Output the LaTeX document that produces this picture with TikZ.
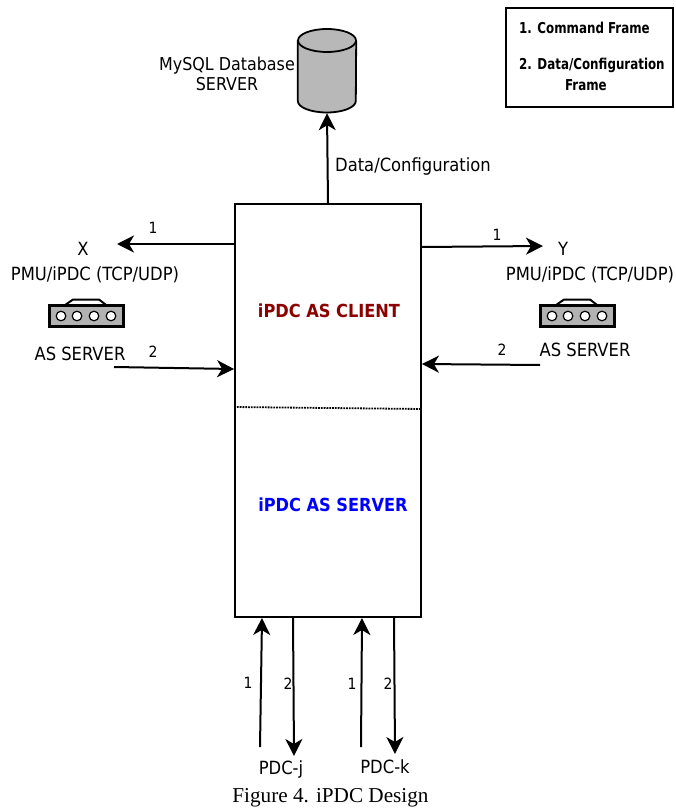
\documentclass[tikz,border=0pt]{standalone}
\usepackage{fontspec}
\setmainfont{Liberation Serif}
\newfontfamily\condfont{DejaVu Sans Condensed}
\usetikzlibrary{arrows.meta}
\tikzset{
  flow/.style={
    line width=2pt,
    -{Stealth[length=17pt,width=17pt,inset=5pt]}
  },
  ipdcbox/.style={
    draw,
    line width=1.8pt,
    minimum width=186pt,
    minimum height=413pt,
    inner sep=0pt
  },
  legendbox/.style={
    draw,
    line width=1.8pt,
    minimum width=167pt,
    minimum height=99pt,
    inner sep=0pt
  },
  database/.style={
    minimum width=58pt,
    minimum height=84pt,
    inner sep=0pt
  },
  dbfill/.style={
    draw,
    line width=1.8pt,
    fill=black!28
  },
  txt/.style={
    font=\condfont\fontsize{18.2}{20}\selectfont,
    align=center,
    inner sep=0pt
  },
  num/.style={
    font=\condfont\fontsize{15.5}{16}\selectfont,
    inner sep=0pt
  },
  legend/.style={
    font=\condfont\bfseries\fontsize{15}{20}\selectfont,
    xscale=0.88,
    transform shape,
    anchor=west,
    inner sep=0pt
  },
  role/.style={
    font=\condfont\bfseries\fontsize{18}{20}\selectfont,
    inner sep=0pt
  },
  pics/pmuicon/.style={
    code={
      \draw[line width=2pt] (-23,-9) -- (-13,-16) -- (13,-16) -- (22,-9);
      \draw[line width=3pt,fill=black!30] (-37,-10) rectangle (37,11);
      \foreach \i in {-25,-9,8,25}
        \draw[line width=1.2pt,fill=white] (\i,0.5) circle (4.8);
    }
  }
}
\begin{document}
\begin{tikzpicture}[x=1pt,y=-1pt]
    \useasboundingbox (0,0) rectangle (676,810);
    \node[ipdcbox] (main) at (328,410.5) {};
    \node[legendbox] (legendframe) at (589.5,57.5) {};
    \node[database] (db) at (327,71) {};

    % database drum
    \draw[dbfill] (db.north west |- 0,40.5) -- (db.south west |- 0,101)
        arc[start angle=180,end angle=0,x radius=29,y radius=11.5]
        -- (db.north east |- 0,40.5);
    \draw[dbfill] (327,40.5) ellipse[x radius=29,y radius=11.5];

    % frame legend
    \node[legend] (cmd) at (519,28) {1. Command Frame};
    \node[legend] (dat) at (519,65) {2. Data/Configuration};
    \node[legend] (datb) at (565,85) {Frame};

    \node[txt,font=\condfont\fontsize{17.7}{20}\selectfont] (dbname) at (227,74) {MySQL Database\\SERVER};
    \node[txt] (datacfg) at (413,166) {Data/Configuration};

    \node[role,text=red!55!black] (client) at (329,311) {iPDC AS CLIENT};
    \node[role,text=blue] (server) at (333,505) {iPDC AS SERVER};

    % left side
    \node[txt] (xname) at (83,249) {X};
    \node[txt] (xpmu) at (95,275) {PMU/iPDC (TCP/UDP)};
    \pic at (86,315.5) {pmuicon};
    \node[txt] (xas) at (80,354) {AS SERVER};
    \node[num] (xone) at (153,228) {1};
    \node[num] (xtwo) at (153,352) {2};

    % right side
    \node[txt] (yname) at (563,249) {Y};
    \node[txt] (ypmu) at (590,275) {PMU/iPDC (TCP/UDP)};
    \pic at (577,315.5) {pmuicon};
    \node[txt] (yas) at (585,350) {AS SERVER};
    \node[num] (yone) at (497,235) {1};
    \node[num] (ytwo) at (502,350) {2};

    % bottom
    \node[txt] (pdcj) at (281,769) {PDC-j};
    \node[txt] (pdck) at (385,767) {PDC-k};
    \node[num] (jone) at (248,683) {1};
    \node[num] (jtwo) at (288,684) {2};
    \node[num] (kone) at (352,684) {1};
    \node[num] (ktwo) at (388,684) {2};
    \node[font=\fontsize{21.2}{24}\selectfont,inner sep=0pt] (caption) at (330.5,798) {Figure 4. iPDC Design};

    % free ends
    \coordinate (xout) at (117,244);
    \coordinate (xin) at (114,367);
    \coordinate (yout) at (543,246);
    \coordinate (yin) at (540,365);
    \coordinate (jin) at (260,747);
    \coordinate (jout) at (294,756);
    \coordinate (kin) at (361,747);
    \coordinate (kout) at (395,754);
    \coordinate (divl) at (main.west |- 0,407);
    \coordinate (divr) at (main.east |- 0,409);

    \draw[flow] (main.north) -- (db.south);
    \draw[flow] (main.west |- xout) -- (xout);
    \draw[flow] (xin) -- (main.west |- 0,369);
    \draw[flow] (main.east |- 0,247) -- (yout);
    \draw[flow] (yin) -- (main.east |- 0,364);
    \draw[flow] (jin) -- (262,618);
    \draw[flow] (293,617) -- (jout);
    \draw[flow] (kin) -- (362,618);
    \draw[flow] (394,617) -- (kout);
    \draw[densely dotted,line width=1.8pt] (divl) -- (divr);
\end{tikzpicture}
\end{document}
